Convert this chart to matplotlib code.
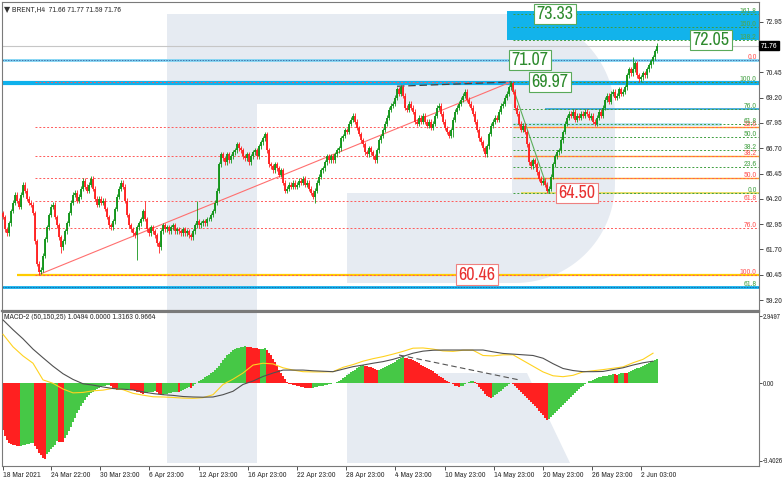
import numpy as np
import matplotlib
matplotlib.use("Agg")
import matplotlib.pyplot as plt
from matplotlib.patches import Rectangle, Polygon
from matplotlib import transforms
from matplotlib import font_manager as fm

# ---------------- data ----------------
# H4 closes, 18 Mar 2021 -> 2 Jun 2021
closes = [
    63.3, 62.7, 62.5, 63.0, 63.6, 64.0, 64.4, 64.1, 63.8, 64.4,
    64.9, 64.6, 64.2, 64.0, 63.9, 63.5, 62.1, 61.0, 60.6, 60.7,
    61.4, 62.2, 62.8, 63.4, 63.8, 63.9, 63.3, 62.9, 62.3, 61.8,
    62.1, 62.6, 63.0, 63.5, 64.0, 64.4, 64.5, 64.1, 64.3, 64.7,
    65.1, 64.8, 64.6, 64.9, 65.2, 64.7, 64.2, 63.9, 64.2, 64.0,
    64.1, 63.7, 63.3, 62.9, 62.8, 63.1, 63.7, 64.3, 64.7, 65.0,
    64.8, 64.1, 63.4, 62.9, 62.7, 62.5, 62.4, 62.8, 63.0, 63.2,
    63.6, 63.2, 62.7, 62.5, 62.8, 62.6, 62.4, 62.0, 61.8, 62.6,
    62.9, 62.7, 62.8, 62.6, 62.8, 62.9, 62.6, 62.7, 62.6, 62.5,
    62.7, 62.5, 62.6, 62.4, 62.3, 62.6, 62.9, 63.1, 62.9, 63.0,
    63.1, 63.0, 63.2, 63.2, 63.4, 63.6, 64.0, 64.6, 65.9, 66.4,
    66.2, 66.0, 66.4, 66.1, 66.3, 66.5, 66.6, 66.9, 66.7, 66.6,
    66.3, 66.2, 66.4, 66.0, 66.3, 66.5, 66.6, 66.3, 66.8, 67.0,
    67.2, 67.4, 66.6, 65.9, 65.8, 65.6, 65.9, 65.7, 65.4, 65.6,
    65.0, 64.6, 64.7, 64.9, 64.8, 65.0, 64.8, 64.9, 65.1, 65.0,
    65.2, 64.9, 65.0, 64.7, 64.5, 64.3, 64.6, 65.0, 65.3, 65.6,
    65.7, 66.0, 66.3, 66.1, 66.3, 66.1, 66.4, 66.6, 66.7, 67.2,
    67.3, 67.6, 67.5, 67.9, 68.1, 68.3, 68.0, 67.7, 67.4, 67.1,
    66.9, 66.5, 66.4, 66.7, 66.5, 66.3, 66.1, 66.6, 67.1, 67.3,
    67.6, 67.9, 68.2, 68.6, 68.8, 68.9, 69.2, 69.6, 69.4, 69.7,
    69.3, 68.7, 68.6, 68.9, 68.7, 68.5, 68.0, 67.9, 68.2, 68.0,
    68.3, 68.0, 67.8, 68.0, 67.7, 67.9, 68.3, 68.7, 68.8, 68.4,
    68.0, 67.7, 67.5, 67.3, 67.6, 68.1, 68.5, 68.7, 68.9, 69.1,
    69.3, 69.5, 69.1, 68.9, 68.7, 68.4, 68.0, 67.6, 67.2, 67.0,
    66.7, 66.4, 66.8, 67.4, 67.8, 68.0, 68.2, 68.1, 68.5, 68.8,
    68.9, 69.2, 69.4, 69.7, 69.9, 69.5, 68.7, 68.4, 67.9, 67.6,
    67.8, 67.5, 66.9, 66.0, 65.8, 66.1, 65.9, 65.5, 65.2, 65.0,
    65.1, 64.9, 64.6, 64.7, 65.3, 65.9, 66.3, 66.5, 66.6, 67.1,
    67.5, 67.9, 68.2, 68.4, 68.3, 68.5, 68.1, 68.3, 68.2, 68.4,
    68.3, 68.5, 68.4, 68.2, 68.3, 68.0, 67.9, 68.2, 68.5, 68.3,
    68.7, 69.1, 69.3, 69.0, 69.4, 69.5, 69.2, 69.3, 69.6, 69.4,
    69.5, 69.7, 70.3, 70.6, 70.4, 70.6, 70.9, 70.3, 70.1, 70.2,
    70.4, 70.3, 70.6, 70.8, 71.0, 71.2, 71.5, 71.76,
]
first_open = 63.5
wick = 0.12
spike_highs = {10: 65.0, 71: 64.1, 97: 64.1, 131: 67.5, 176: 68.3,
               199: 69.76, 232: 69.6, 254: 69.97, 315: 71.2, 327: 71.77}
spike_lows = {18: 60.46, 29: 61.5, 67: 61.2, 78: 61.5, 142: 64.5,
              156: 64.0, 225: 67.25, 242: 66.35, 273: 64.50}

# MACD histogram (one value per bar)
hist = [
    -2.05, -2.3, -2.5, -2.6, -2.66, -2.7, -2.72, -2.74, -2.76,
    -2.74, -2.72, -2.7, -2.68, -2.65, -2.62, -2.6,
    -2.75, -2.9, -3.05, -3.15, -3.28, -3.3,
    -3.1, -3.0, -2.9, -2.8, -2.7, -2.55, -2.56, -2.57, -2.58,
    -2.4, -2.25, -2.1, -1.9, -1.7, -1.5, -1.3, -1.15, -1.0, -0.85, -0.72, -0.6,
    -0.5, -0.42, -0.36, -0.3, -0.25, -0.2, -0.16, -0.13, -0.1, -0.08, -0.07,
    -0.12, -0.2, -0.26, -0.3,
    -0.29, -0.28, -0.27, -0.26, -0.25, -0.24,
    -0.28, -0.31, -0.34, -0.37, -0.4, -0.43, -0.46,
    -0.44, -0.42, -0.4, -0.38, -0.36, -0.34,
    -0.4, -0.46, -0.52,
    -0.5, -0.48, -0.46, -0.44, -0.42, -0.4, -0.38, -0.36,
    -0.4,
    -0.35, -0.3, -0.26, -0.22, -0.18,
    -0.2,
    -0.12,
    -0.05, 0.02, 0.08, 0.14, 0.2, 0.26, 0.32, 0.38, 0.44, 0.5, 0.58, 0.66,
    0.78, 0.9, 1.02, 1.12, 1.22, 1.3, 1.38, 1.45, 1.5, 1.54, 1.57, 1.59, 1.6, 1.62,
    1.61, 1.6, 1.59, 1.57, 1.55, 1.53, 1.5,
    1.51, 1.52, 1.53,
    1.45, 1.35, 1.22, 1.08, 0.92, 0.76, 0.6, 0.45, 0.3, 0.17, 0.06,
    -0.03, -0.05, -0.07, -0.09, -0.11, -0.13, -0.15, -0.17, -0.19, -0.2, -0.21, -0.22,
    -0.2, -0.18, -0.16, -0.14, -0.12, -0.1, -0.08, -0.06, -0.04, -0.02, 0.0, 0.03, 0.06,
    0.1, 0.16, 0.22, 0.28, 0.35, 0.42, 0.48, 0.54, 0.6, 0.66, 0.71, 0.76, 0.8,
    0.78, 0.76, 0.73, 0.7, 0.66, 0.62, 0.58,
    0.6, 0.64, 0.68, 0.72, 0.76, 0.8, 0.85, 0.9, 0.95, 1.0, 1.05, 1.1, 1.14,
    1.12, 1.1, 1.08, 1.06,
    1.02, 0.97, 0.92, 0.87, 0.82, 0.77, 0.72, 0.67, 0.62, 0.57, 0.52, 0.46, 0.4, 0.34, 0.28, 0.22,
    0.15, 0.1, 0.05, 0.01,
    -0.05, -0.1, -0.14, -0.17,
    -0.14, -0.1, -0.05, 0.0, 0.04, 0.08, 0.1,
    0.05, -0.05, -0.15, -0.25, -0.35, -0.45, -0.55, -0.62, -0.66,
    -0.6, -0.53, -0.46, -0.39, -0.32, -0.25, -0.18, -0.11, -0.05, 0.0,
    -0.05, -0.12, -0.2, -0.28, -0.36, -0.45, -0.54, -0.63, -0.72, -0.81, -0.9, -1.0,
    -1.1, -1.2, -1.3, -1.4, -1.5, -1.6,
    -1.55, -1.48, -1.4, -1.32, -1.23, -1.14, -1.05, -0.96, -0.87, -0.78, -0.69, -0.6,
    -0.51, -0.42, -0.34, -0.26, -0.18, -0.1,
    -0.03, 0.03, 0.08, 0.12, 0.16, 0.2, 0.23, 0.26, 0.28, 0.3, 0.32, 0.34, 0.36, 0.38, 0.4,
    0.39, 0.38,
    0.42, 0.45, 0.47,
    0.46, 0.45,
    0.49, 0.53, 0.57, 0.61, 0.65, 0.69, 0.73, 0.77, 0.81, 0.85, 0.89, 0.93, 0.97, 1.01, 1.05,
]

# MACD lines, one value every 5 bars
line_step = 5
yellow_line = [2.15, 1.6, 1.2, 0.88, 0.15, 0.0, -0.25, -0.42, -0.4, -0.33,
               -0.3, -0.22, -0.28, -0.44, -0.52, -0.59, -0.6, -0.62, -0.65, -0.66,
               -0.63, -0.5, -0.05, 0.18, 0.45, 0.8, 0.88, 0.85, 0.68, 0.58,
               0.51, 0.5, 0.5, 0.51, 0.7, 0.82, 0.97, 1.08, 1.17, 1.28,
               1.4, 1.54, 1.55, 1.5, 1.42, 1.4, 1.45, 1.45, 1.22, 1.2,
               1.25, 1.25, 1.0, 0.75, 0.5, 0.33, 0.29, 0.35, 0.5, 0.55,
               0.6, 0.66, 0.72, 0.9, 1.05, 1.32]
black_line = [2.78, 2.35, 1.95, 1.5, 1.12, 0.75, 0.42, 0.17, -0.02, -0.08,
              -0.16, -0.23, -0.26, -0.29, -0.38, -0.45, -0.5, -0.53, -0.58, -0.6,
              -0.61, -0.6, -0.5, -0.35, -0.05, 0.1, 0.3, 0.45, 0.58, 0.58,
              0.58, 0.55, 0.53, 0.51, 0.62, 0.73, 0.8, 0.88, 0.95, 1.05,
              1.18, 1.32, 1.41, 1.45, 1.46, 1.46, 1.46, 1.46, 1.46, 1.38,
              1.31, 1.28, 1.25, 1.22, 1.1, 0.86, 0.65, 0.56, 0.51, 0.51,
              0.52, 0.6, 0.68, 0.8, 0.9, 0.97]

# swing points / fibonacci anchors
low_bar, low_price = 18, 60.46
high_bar, high_price = 254, 69.97
low2_bar, low2_price = 273, 64.50
fib_ratios = [0.236, 0.382, 0.5, 0.618, 0.76, 1.0]
fib_up_ratios = [0.0, 0.236, 0.382, 0.5, 0.618, 0.76, 1.0]
fib_ext_ratios = [1.382, 1.5, 1.618]
level_7107 = 71.07
level_5986 = 59.86
zone_low, zone_high, zone_bar = 72.05, 73.5, 252
last_price = 71.76

tag_values = ["73.33", "72.05", "71.07", "69.97", "64.50", "60.46"]
tag_prices = [73.33, 72.05, 71.07, 69.97, 64.50, 60.46]
tag_bars = [276, 354, 263.5, 273.5, 287, 237]
tag_green = [True, True, True, True, False, False]

price_ticks = [59.20, 60.45, 61.70, 62.95, 64.20, 65.45, 66.70, 67.95, 69.20, 70.45, 72.95]
date_labels = ["18 Mar 2021", "24 Mar 22:00", "30 Mar 23:00", "6 Apr 23:00", "12 Apr 23:00",
               "16 Apr 23:00", "22 Apr 23:00", "28 Apr 23:00", "4 May 23:00", "10 May 23:00",
               "14 May 23:00", "20 May 23:00", "26 May 23:00", "2 Jun 03:00"]
date_bars = [0, 24, 48.5, 73, 98, 122.5, 147, 171.5, 196, 221, 245.5, 270, 294.5, 319]

# ---------------- fonts ----------------
# pick a narrow face if one is installed, otherwise shrink DejaVu
narrow_names = sorted({f.name for f in fm.fontManager.ttflist
                       if 'Narrow' in f.name or 'Condensed' in f.name})
dv_condensed = any(f.name == 'DejaVu Sans' and 'condensed' in str(f.stretch)
                   for f in fm.fontManager.ttflist)
if narrow_names:
    FONT = dict(family=[narrow_names[0], 'DejaVu Sans'])
    SMALL, TAG = 5.8, 13
elif dv_condensed:
    FONT = dict(family=['DejaVu Sans'], stretch='condensed')
    SMALL, TAG = 5.2, 12
else:
    FONT = dict(family=['DejaVu Sans'])
    SMALL, TAG = 4.8, 11

GREEN_C = '#13951a'
RED_C = '#ff2323'
CYAN = '#0fb1ec'
FIB_G = '#4ea64e'
FIB_R = '#ff5a5a'
LOGO = '#e6ebf2'

W, H = 782, 478
fig = plt.figure(figsize=(W / 100, H / 100), dpi=100)
fig.patch.set_facecolor('white')

# watermark logo in pixel coordinates
bg = fig.add_axes([0, 0, 1, 1])
bg.set_xlim(0, W)
bg.set_ylim(H, 0)
bg.axis('off')


def arc(cx, cy, r, a0, a1, n=30):
    t = np.radians(np.linspace(a0, a1, n))
    return np.c_[cx + r * np.cos(t), cy + r * np.sin(t)]


bg.add_patch(Rectangle((167, 14), 90, 449, fc=LOGO, ec='none'))
bowl = np.vstack([[[257, 14]], arc(515, 114, 100, -90, 0), arc(515, 183, 100, 0, 90),
                  [[347, 283], [347, 193], [512, 193], [512, 104], [257, 104]]])
bg.add_patch(Polygon(bowl, closed=True, fc=LOGO, ec='none'))
bg.add_patch(Polygon([[347, 373], [527, 373], [570, 463], [347, 463]], closed=True, fc=LOGO, ec='none'))

# ---------------- main price panel ----------------
ax = fig.add_axes([2 / W, 1 - 311 / H, 757 / W, 309 / H])
ax.set_zorder(2)
ax.patch.set_alpha(0)
xmax = -0.5 + 757 / 2
ax.set_xlim(-0.5, xmax)
ax.set_ylim(58.66, 73.92)
blend = transforms.blended_transform_factory(ax.transAxes, ax.transData)

c = np.array(closes)
n = len(c)
idx = np.arange(n)
o = np.r_[first_open, c[:-1]]
hi = np.maximum(o, c) + wick
lo = np.minimum(o, c) - wick
for b, v in spike_highs.items():
    if b < n:
        hi[b] = max(hi[b], v)
for b, v in spike_lows.items():
    if b < n:
        lo[b] = min(lo[b], v)
col = np.where(c >= o, GREEN_C, RED_C)

# upper target zone
ax.add_patch(Rectangle((zone_bar, zone_low), xmax - zone_bar, zone_high - zone_low,
                       fc='#12b3eb', ec='none', zorder=1))

# horizontal levels
ax.axhline(last_price, color='#c6c6c6', lw=0.8, zorder=1)
ax.axhline(level_7107, color='#7fd3f3', lw=2.0, zorder=1)
ax.axhline(level_7107, color='#2a4a8a', lw=0.5, ls=(0, (2, 2)), zorder=1.5)
ax.axhline(high_price - 0.05, color=CYAN, lw=3.0, zorder=1)
ax.axhline(level_5986, color=CYAN, lw=2.0, zorder=1)
ax.axhline(level_5986, color='#2a4a8a', lw=0.5, ls=(0, (2, 2)), zorder=1.5)


def fib_label(lvl, txt, color):
    ax.text(0.997, lvl, txt, transform=blend, ha='right', va='bottom',
            fontsize=SMALL, color=color, zorder=5, **FONT)


# red fib (60.46 -> 69.97)
rng = high_price - low_price
ax.hlines(low_price, low_bar - 11, xmax, color='#ffcc00', lw=1.6, zorder=1)
for r in fib_ratios:
    lvl = high_price - r * rng
    ax.hlines(lvl, low_bar - 2, xmax, color=FIB_R, lw=0.7, ls=(0, (2, 2)), zorder=1.6)
    fib_label(lvl, f"{r * 100:.1f}", FIB_R)
for r in [0.236, 0.382, 0.5]:
    ax.hlines(high_price - r * rng, high_bar + 1, xmax, color='#ffa51a', lw=1.0, zorder=1.2)
ax.hlines(high_price, low_bar - 2, xmax, color=FIB_R, lw=0.7, ls=(0, (2, 2)), zorder=1.6)

# green fib (69.97 -> 64.50)
rng2 = high_price - low2_price
ax.hlines(low2_price, high_bar + 5, xmax, color='#e8dc60', lw=1.3, zorder=1.2)
ax.hlines(low2_price + 0.618 * rng2, high_bar + 1, high_bar + 105, color='#b5e3f3', lw=2.0, zorder=1.1)
ax.hlines(low2_price + 0.76 * rng2, low2_bar - 2, xmax, color='#1d9ad6', lw=1.1, zorder=1.2)
for r in fib_up_ratios + fib_ext_ratios:
    lvl = low2_price + r * rng2
    ax.hlines(lvl, high_bar + 1, xmax, color='#3e9e3e', lw=0.7, ls=(0, (2, 2)), zorder=1.6)
    fib_label(lvl, f"{r * 100:.1f}", FIB_G)
fib_label(level_7107, "0.0", FIB_R)
fib_label(level_5986, "61.8", FIB_G)

# trend lines
ax.plot([low_bar, high_bar], [low_price, high_price], color='#ff6f6f', lw=0.8, zorder=2)
ax.plot([high_bar, low2_bar], [high_price, low2_price], color='#5cae5c', lw=0.8, zorder=2)
ax.plot([197, high_bar], [69.76, high_price], color='#444444', lw=0.9, ls=(0, (6, 3)), zorder=2)

# candles
ax.vlines(idx, lo, hi, colors=col, lw=0.6, zorder=3)
ax.vlines(idx, np.minimum(o, c), np.maximum(o, c), colors=col, lw=1.35, zorder=3)

# value tags
for txt, p, b, g in zip(tag_values, tag_prices, tag_bars, tag_green):
    tc = '#2e8b2e' if g else '#e83232'
    ec = '#5aaa5a' if g else '#ee8080'
    ax.text(b, p, txt, ha='center', va='center', fontsize=TAG, color=tc, zorder=6,
            bbox=dict(boxstyle='square,pad=0.12', fc='white', ec=ec, lw=0.8), **FONT)

# header
ax.text(0.003, 0.985, "\u25bc BRENT,H4  71.66 71.77 71.59 71.76", transform=ax.transAxes,
        ha='left', va='top', fontsize=SMALL, color='#333333', zorder=6, **FONT)

# axis cosmetics
ax.yaxis.tick_right()
ax.set_yticks(price_ticks)
ax.set_yticklabels([f"{t:.2f}" for t in price_ticks], fontsize=SMALL, **FONT)
ax.tick_params(axis='y', length=3, width=0.6, colors='#333333', pad=1.5)
ax.set_xticks([])
for s in ax.spines.values():
    s.set_color('#7a7a7a')
    s.set_linewidth(0.8)
ax.spines['bottom'].set_linewidth(1.6)
ax.text(1.002, last_price, f"{last_price:.2f}", transform=blend, ha='left', va='center',
        fontsize=SMALL, color='white', zorder=6,
        bbox=dict(boxstyle='square,pad=0.2', fc='black', ec='black'), **FONT)

# ---------------- MACD panel ----------------
ax2 = fig.add_axes([2 / W, 1 - 466 / H, 757 / W, 154 / H])
ax2.set_zorder(2)
ax2.patch.set_alpha(0)
ax2.set_xlim(-0.5, xmax)
ax2.set_ylim(-3.627, 3.127)

h = np.array(hist[:n])
hx = np.arange(len(h))
prev = np.r_[h[0] + 1, h[:-1]]
hcol = np.where(h > prev, '#46c846', '#ff2020')
ax2.bar(hx, h, width=0.66, color=hcol, lw=0, zorder=2)

ax2.plot(np.arange(len(yellow_line)) * line_step, yellow_line, color='#ffd21f', lw=0.8, zorder=3)
ax2.plot(np.arange(len(black_line)) * line_step, black_line, color='#505050', lw=0.8, zorder=3)
ax2.plot([198, 258], [1.24, 0.15], color='#555555', lw=0.8, ls=(0, (5, 3)), zorder=3)

ax2.text(0.003, 0.985, "MACD-2 (50,150,25) 1.0494 0.0000 1.3163 0.9664", transform=ax2.transAxes,
         ha='left', va='top', fontsize=SMALL, color='#333333', zorder=6, **FONT)

macd_ticks = [-3.4026, 0.0, 2.9497]
ax2.yaxis.tick_right()
ax2.set_yticks(macd_ticks)
ax2.set_yticklabels(["-3.4026", "0.00", "2.9497"], fontsize=SMALL - 0.6, **FONT)
ax2.tick_params(axis='y', length=2, width=0.6, colors='#333333', pad=0.5)
ax2.set_xticks(date_bars)
ax2.set_xticklabels(date_labels, fontsize=SMALL, ha='left', **FONT)
ax2.tick_params(axis='x', length=3, width=0.6, colors='#333333', pad=1.5)
for s in ax2.spines.values():
    s.set_color('#7a7a7a')
    s.set_linewidth(0.8)

fig.savefig("out.png", dpi=100, facecolor='white')
